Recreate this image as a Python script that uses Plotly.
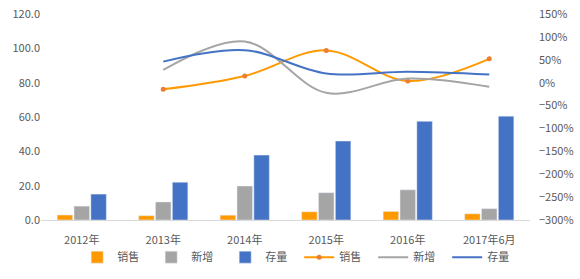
import plotly.graph_objects as go

categories = ["2012年", "2013年", "2014年", "2015年", "2016年", "2017年6月"]
sales = [2.9, 2.5, 2.8, 4.8, 5.0, 3.6]
new_add = [8.1, 10.5, 19.8, 15.9, 17.6, 6.6]
stock = [15.1, 22.0, 37.8, 46.0, 57.5, 60.5]

line_cats = ["2013年", "2014年", "2015年", "2016年", "2017年6月"]
sales_growth = [-14.6, 14.6, 70.5, 3.7, 52.0]
new_growth = [27.7, 90.0, -22.0, 9.0, -9.0]
stock_growth = [46.0, 71.0, 20.0, 24.0, 18.0]

ORANGE = "#FF9900"
GRAY = "#A5A5A5"
BLUE = "#4472C4"
FONT = "Noto Sans CJK SC"
TXT = "#595959"

fig = go.Figure()
fig.add_trace(go.Bar(x=categories, y=sales, name="销售", marker_color=ORANGE))
fig.add_trace(go.Bar(x=categories, y=new_add, name="新增", marker_color=GRAY))
fig.add_trace(go.Bar(x=categories, y=stock, name="存量", marker_color=BLUE))

fig.add_trace(go.Scatter(x=line_cats, y=sales_growth, name="销售", yaxis="y2",
                         mode="lines+markers", line=dict(color=ORANGE, width=2, shape="spline", smoothing=1),
                         marker=dict(color="#ED7D31", size=5)))
fig.add_trace(go.Scatter(x=line_cats, y=new_growth, name="新增", yaxis="y2",
                         mode="lines", line=dict(color=GRAY, width=2, shape="spline", smoothing=1)))
fig.add_trace(go.Scatter(x=line_cats, y=stock_growth, name="存量", yaxis="y2",
                         mode="lines", line=dict(color=BLUE, width=2, shape="spline", smoothing=1)))

fig.update_layout(
    width=580, height=279,
    margin=dict(l=41, r=50, t=14, b=59, autoexpand=False),
    paper_bgcolor="white", plot_bgcolor="white",
    font=dict(family=FONT, size=11, color=TXT),
    barmode="group", bargap=0.38, bargroupgap=0.08,
    showlegend=True,
    legend=dict(orientation="h", x=0.074, xanchor="left", y=-0.11, yanchor="top",
                bgcolor="rgba(0,0,0,0)",
                entrywidth=29, font=dict(size=11, color=TXT), traceorder="normal",
                itemwidth=30, tracegroupgap=0),
    xaxis=dict(type="category", showgrid=False, showline=True, linecolor="#D9D9D9",
               ticks="", ticklabelstandoff=10, automargin=False, tickfont=dict(size=11, color=TXT)),
    yaxis=dict(range=[0, 120], dtick=20, tickformat=".1f", showgrid=False, automargin=False,
               zeroline=False, showline=False, tickfont=dict(size=11, color=TXT)),
    yaxis2=dict(range=[-300, 150], dtick=50, ticksuffix="%", overlaying="y", side="right",
                showgrid=False, zeroline=False, showline=False, ticklabelstandoff=8, automargin=False,
                tickfont=dict(size=11, color=TXT)),
)

fig.write_html("out.html")
